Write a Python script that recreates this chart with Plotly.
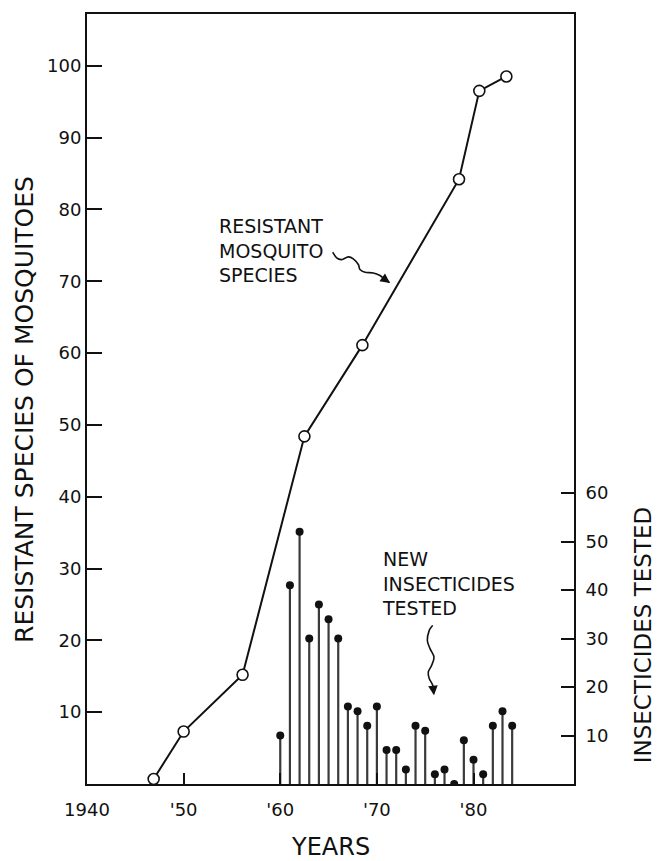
import plotly.graph_objects as go

# Resistant mosquito species (cumulative count) by year
mosquito_years = [1946.9, 1950.0, 1956.1, 1962.5, 1968.5, 1978.5, 1980.6, 1983.4]
mosquito_species = [0.7, 7.3, 15.2, 48.4, 61.1, 84.2, 96.5, 98.5]

# New insecticides tested per year
insecticide_years = list(range(1960, 1985))
insecticides_tested = [10, 41, 52, 30, 37, 34, 30, 16, 15, 12, 16, 7, 7, 3,
                       12, 11, 2, 3, 0, 9, 5, 2, 12, 15, 12]

# Axis tick labels
year_ticks = [1940, 1950, 1960, 1970, 1980]
year_tick_text = ["1940", "'50", "'60", "'70", "'80"]
left_ticks = [10, 20, 30, 40, 50, 60, 70, 80, 90, 100]
right_ticks = [10, 20, 30, 40, 50, 60]

FONT = "DejaVu Sans"
INK = "#111111"

fig = go.Figure()

# Stems for the insecticide counts (drawn on the secondary axis)
stem_x, stem_y = [], []
for yr, n in zip(insecticide_years, insecticides_tested):
    stem_x += [yr, yr, None]
    stem_y += [0, n, None]
fig.add_trace(go.Scatter(
    x=stem_x, y=stem_y, yaxis="y2", mode="lines",
    line=dict(color="#3a3a3a", width=2.2), hoverinfo="skip", showlegend=False,
))
fig.add_trace(go.Scatter(
    x=insecticide_years, y=insecticides_tested, yaxis="y2", mode="markers",
    marker=dict(color=INK, size=8), showlegend=False, name="Insecticides tested",
))

# Resistant species line with open circles
fig.add_trace(go.Scatter(
    x=mosquito_years, y=mosquito_species, mode="lines+markers",
    line=dict(color=INK, width=2),
    marker=dict(symbol="circle", size=11, color="white",
                line=dict(color=INK, width=1.6)),
    showlegend=False, name="Resistant mosquito species",
))


def smooth_path(pts):
    """Catmull-Rom curve through the points, as an SVG path string."""
    d = f"M {pts[0][0]},{pts[0][1]}"
    n = len(pts)
    for i in range(n - 1):
        p0 = pts[i - 1] if i > 0 else pts[i]
        p1, p2 = pts[i], pts[i + 1]
        p3 = pts[i + 2] if i + 2 < n else p2
        c1 = (p1[0] + (p2[0] - p0[0]) / 6, p1[1] + (p2[1] - p0[1]) / 6)
        c2 = (p2[0] - (p3[0] - p1[0]) / 6, p2[1] - (p3[1] - p1[1]) / 6)
        d += f" C {c1[0]},{c1[1]} {c2[0]},{c2[1]} {p2[0]},{p2[1]}"
    return d


# Wavy leader lines (year, species-axis value)
leader_species = [(1965.43, 74.03), (1965.84, 73.24), (1966.36, 73.01),
                  (1967.04, 73.38), (1967.56, 73.10), (1968.08, 72.32),
                  (1968.25, 71.63), (1968.77, 71.25), (1969.63, 71.15),
                  (1970.32, 70.79), (1970.84, 70.24), (1971.30, 69.80)]
leader_insect = [(1975.78, 22.08), (1975.42, 21.39), (1975.22, 20.00),
                 (1975.50, 18.85), (1975.91, 17.68), (1975.67, 16.53),
                 (1975.32, 15.60), (1975.42, 14.68), (1975.78, 13.75),
                 (1975.90, 12.60)]

shapes = []
for pts in (leader_species, leader_insect):
    shapes.append(dict(type="path", xref="x", yref="y", path=smooth_path(pts),
                       line=dict(color=INK, width=1.6)))

annotations = [
    # Arrowheads at the ends of the wavy leaders
    dict(x=1971.36, y=69.76, xref="x", yref="y", text="", showarrow=True,
         ax=-7, ay=-5, arrowhead=2, arrowsize=1.2, arrowwidth=1.6, arrowcolor=INK),
    dict(x=1975.91, y=12.36, xref="x", yref="y", text="", showarrow=True,
         ax=-1, ay=-9, arrowhead=2, arrowsize=1.2, arrowwidth=1.6, arrowcolor=INK),
    # Series labels
    dict(x=0.2663, y=0.693, xref="paper", yref="paper", xanchor="left", yanchor="middle",
         text="RESISTANT<br>MOSQUITO<br>SPECIES", showarrow=False, align="left",
         font=dict(family=FONT, size=19, color=INK)),
    dict(x=0.6016, y=0.2604, xref="paper", yref="paper", xanchor="left", yanchor="middle",
         text="NEW<br>INSECTICIDES<br>TESTED", showarrow=False, align="left",
         font=dict(family=FONT, size=19, color=INK)),
    # Axis titles
    dict(x=-0.127, y=0.486, xref="paper", yref="paper", xanchor="center", yanchor="middle",
         text="RESISTANT SPECIES OF MOSQUITOES", textangle=-90, showarrow=False,
         font=dict(family=FONT, size=25, color=INK)),
    dict(x=1.1415, y=0.193, xref="paper", yref="paper", xanchor="center", yanchor="middle",
         text="INSECTICIDES TESTED", textangle=-90, showarrow=False,
         font=dict(family=FONT, size=23, color=INK)),
    dict(x=0.5, y=-0.0816, xref="paper", yref="paper", xanchor="center", yanchor="middle",
         text="YEARS", showarrow=False,
         font=dict(family=FONT, size=24, color=INK)),
]

fig.update_layout(
    width=657, height=861,
    margin=dict(l=87, r=83, t=12, b=77),
    paper_bgcolor="white", plot_bgcolor="white",
    font=dict(family=FONT, color=INK),
    shapes=shapes, annotations=annotations,
    xaxis=dict(range=[1940, 1990.4], tickvals=year_ticks, ticktext=year_tick_text,
               ticks="inside", ticklen=11, tickwidth=1.5, tickcolor=INK,
               showline=True, linewidth=2, linecolor=INK, mirror=True,
               showgrid=False, zeroline=False, ticklabelstandoff=8,
               tickfont=dict(family=FONT, size=18, color=INK)),
    yaxis=dict(range=[0, 107.2], tickvals=left_ticks,
               ticks="inside", ticklen=15, tickwidth=1.5, tickcolor=INK,
               showline=True, linewidth=2, linecolor=INK, mirror=True,
               showgrid=False, zeroline=False,
               tickfont=dict(family=FONT, size=18, color=INK)),
    yaxis2=dict(range=[0, 158.8], tickvals=right_ticks, overlaying="y", side="right",
                ticks="inside", ticklen=13, tickwidth=1.5, tickcolor=INK,
                showline=True, linewidth=2, linecolor=INK,
                showgrid=False, zeroline=False, ticklabelstandoff=6,
                tickfont=dict(family=FONT, size=18, color=INK)),
)

fig.write_html("out.html")
